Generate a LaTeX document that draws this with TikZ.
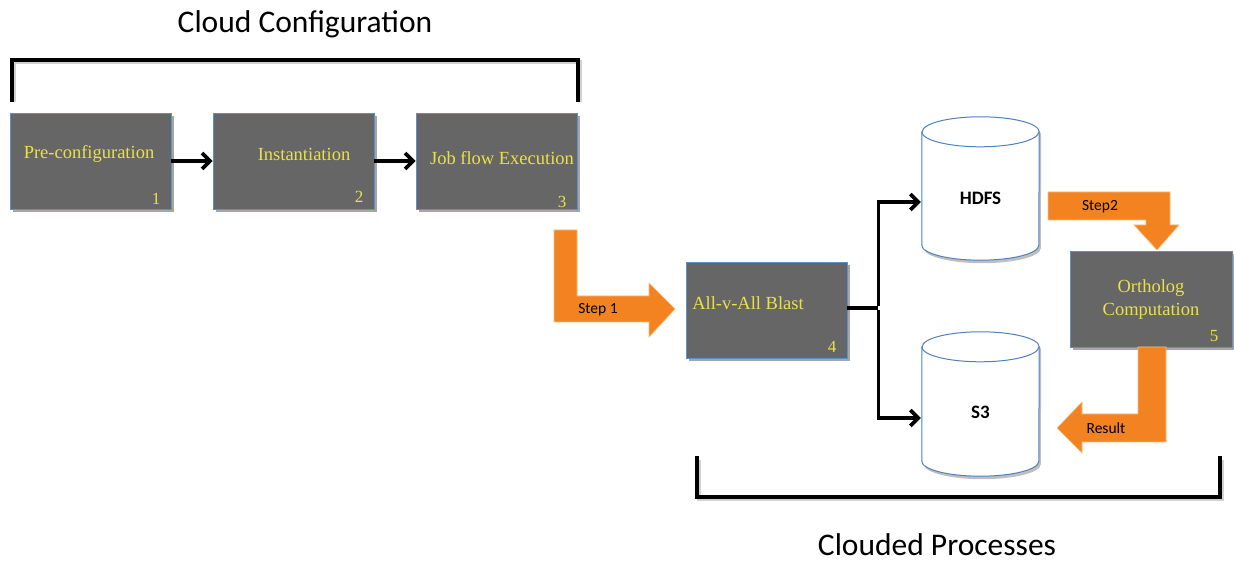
\documentclass[tikz,border=0pt]{standalone}
\usepackage{fontspec}
\setmainfont{Liberation Serif}
\newfontfamily\calibri{Carlito}
\usetikzlibrary{arrows.meta,calc,shadows}
\definecolor{boxgray}{RGB}{102,102,102}
\definecolor{boxedge}{RGB}{96,143,200}
\definecolor{boxtext}{RGB}{232,226,70}
\definecolor{flow}{RGB}{243,131,33}
\definecolor{flowedge}{RGB}{250,190,120}
\definecolor{cyledge}{RGB}{79,129,189}
\tikzset{
  stepbox/.style={draw=boxedge, line width=0.9pt, fill=boxgray,
    minimum width=161pt, minimum height=96pt, inner sep=0pt,
    drop shadow={shadow xshift=3pt, shadow yshift=-3pt, opacity=.35, fill=black}},
  boxlabel/.style={text=boxtext, font=\fontsize{18.5}{23}\selectfont, inner sep=0pt, align=center},
  boxnum/.style={text=boxtext, font=\fontsize{17}{19}\selectfont, inner sep=0pt},
  store/.style={draw=none, minimum width=117pt, inner sep=0pt},
  cylbody/.style={draw=cyledge, line width=1pt, fill=white,
    drop shadow={shadow xshift=2pt, shadow yshift=-3pt, opacity=.25, fill=black}},
  cylrim/.style={draw=cyledge, line width=1pt},
  storelabel/.style={font=\calibri\bfseries\fontsize{19}{22}\selectfont, inner sep=0pt},
  flowlabel/.style={font=\calibri\fontsize{15.5}{18}\selectfont, inner sep=0pt},
  flowarrow/.style={fill=flow, draw=flowedge, line width=0.6pt, line join=miter},
  title/.style={font=\calibri\fontsize{31.5}{36}\selectfont, inner sep=0pt},
  bracket/.style={line width=3.4pt, line join=miter, line cap=rect},
  bracketshade/.style={line width=3.4pt, line join=miter, draw=black!18},
  wire/.style={line width=3.6pt},
  link/.style={line width=3.6pt, line join=miter, -{Straight Barb[length=8pt,width=16pt]}}
}
\begin{document}
\begin{tikzpicture}[x=1pt,y=1pt]
\useasboundingbox[fill=white] (0,0) rectangle (1234,562);

% section titles
\node[title, anchor=base] (cc) at (305,529) {Cloud Configuration};
\node[title, anchor=base] (cp) at (937,6) {Clouded Processes};

% brackets grouping the two phases
\draw[bracketshade] (14,460) -- (14,500) -- (580,500) -- (580,460);
\draw[bracket] (12,462) -- (12,502) -- (578,502) -- (578,462);
\draw[bracketshade] (699,102) -- (699,63) -- (1222,63) -- (1222,102);
\draw[bracket] (697,104) -- (697,65) -- (1220,65) -- (1220,104);

% configuration steps
\node[stepbox] (b1) at (90.5,401) {};
\node[stepbox] (b2) at (293.5,401) {};
\node[stepbox] (b3) at (496.5,401) {};
\node[boxlabel] (t1) at (89,408) {Pre-configuration};
\node[boxlabel] (t2) at (304,408) {Instantiation};
\node[boxlabel] (t3) at (502,404) {Job flow Execution};
\node[boxnum] (n1) at (156,363) {1};
\node[boxnum] (n2) at (359,365) {2};
\node[boxnum] (n3) at (562,360) {3};
\draw[link] (b1.east) -- (b2.west);
\draw[link] (b2.east) -- (b3.west);

% processing steps
\node[stepbox] (b4) at (766.5,252) {};
\node[boxlabel] (t4) at (748,259) {All-v-All Blast};
\node[boxnum] (n4) at (832,215) {4};
\node[stepbox, minimum width=162pt] (b5) at (1151,263) {};
\node[boxlabel] (t5) at (1151,262) {Ortholog\\Computation};
\node[boxnum] (n5) at (1214,226) {5};

% storage cylinders
\node[store, minimum height=143pt] (hdfs) at (980.5,373.5) {};
\node[store, minimum height=144pt] (s3) at (980.5,158) {};
\foreach \c in {hdfs,s3}{
  \path[cylbody] ($(\c.north west)+(0,-15)$) -- ($(\c.south west)+(0,15)$)
    arc[start angle=180, end angle=360, x radius=58.5pt, y radius=15pt]
    -- ($(\c.north east)+(0,-15)$)
    arc[start angle=0, end angle=180, x radius=58.5pt, y radius=15pt] -- cycle;
  \draw[cylrim] ($(\c.north west)+(0,-15)$)
    arc[start angle=180, end angle=360, x radius=58.5pt, y radius=15pt];
}
\node[storelabel] (hl) at (980.5,364) {HDFS};
\node[storelabel] (sl) at (980.5,150) {S3};

% fan-out from the blast step to both stores
\coordinate (j) at ($(b4.east)+(31,2)$);
\coordinate (hin) at ($(hdfs.west)+(-1,-13.5)$);
\coordinate (sin) at ($(s3.west)+(-1,-14)$);
\draw[wire] (b4.east |- j) -- (j);
\draw[link] ([yshift=1.8pt]j) |- (hin);
\draw[link] ([yshift=-1.8pt]j) |- (sin);

% orange process arrows
\path[flowarrow] (554,332) -- (577,332) -- (577,266) -- (649,266) -- (649,279)
  -- (675,253) -- (649,225) -- (649,240) -- (554,240) -- cycle;
\node[flowlabel] (f1) at (598,252) {Step 1};

\path[flowarrow] (1048,370) -- (1170,370) -- (1170,337) -- (1179,337)
  -- (1157,312) -- (1134,337) -- (1146,337) -- (1146,342) -- (1048,342) -- cycle;
\node[flowlabel] (f2) at (1100,355) {Step2};

\path[flowarrow] (1138,215) -- (1166,215) -- (1166,120) -- (1082,120) -- (1082,109)
  -- (1057,134) -- (1082,160) -- (1082,148) -- (1138,148) -- cycle;
\node[flowlabel] (f3) at (1106,134) {Result};
\end{tikzpicture}
\end{document}
